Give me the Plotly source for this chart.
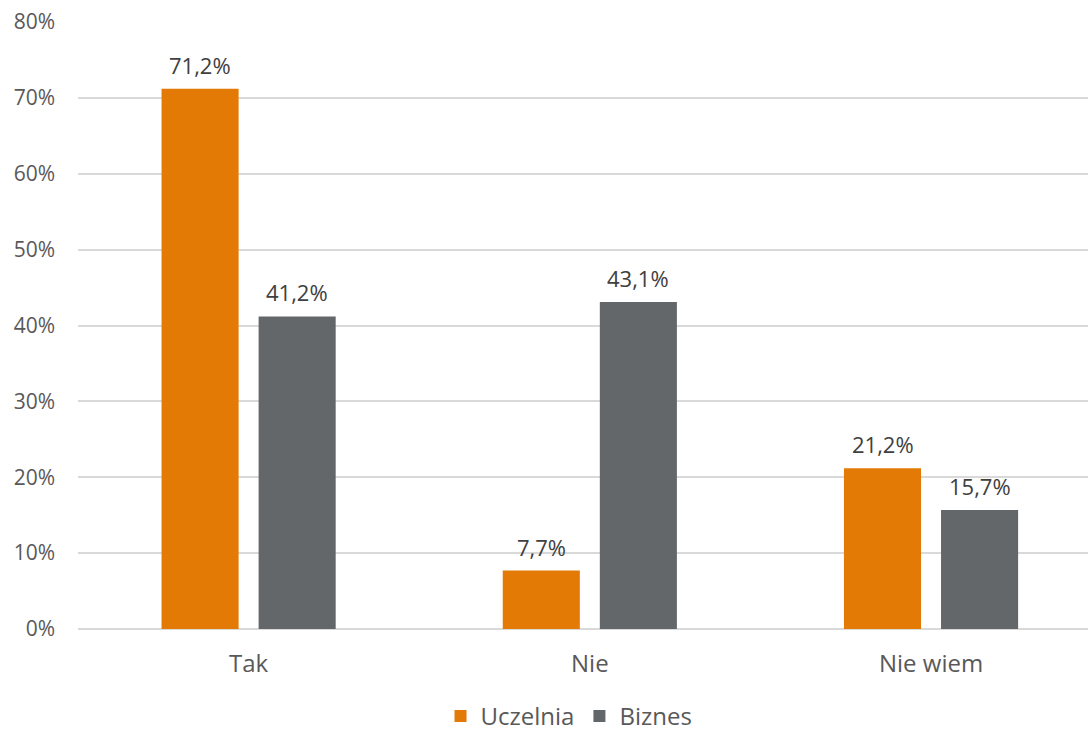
import plotly.graph_objects as go

categories = ["Tak", "Nie", "Nie wiem"]
uczelnia = [71.2, 7.7, 21.2]
biznes = [41.2, 43.1, 15.7]
y_ticks = [0, 10, 20, 30, 40, 50, 60, 70, 80]
y_tick_labels = [f"{v}%" for v in y_ticks]


def fmt(v):
    return f"{v:.1f}%".replace(".", ",")


FONT = "Open Sans"
ORANGE = "#E47A06"
GREY = "#63676A"

fig = go.Figure()
fig.add_trace(go.Bar(
    name="Uczelnia", x=categories, y=uczelnia,
    marker=dict(color=ORANGE, line=dict(width=0)),
))
fig.add_trace(go.Bar(
    name="Biznes", x=categories, y=biznes,
    marker=dict(color=GREY, line=dict(width=0)),
))

# value labels above each bar, offset to the bar's slot within the group
for series, shift in ((uczelnia, -48.5), (biznes, 48.5)):
    for cat, v in zip(categories, series):
        fig.add_annotation(
            x=cat, y=v, text=fmt(v), showarrow=False,
            xanchor="center", yanchor="middle", xshift=shift, yshift=24,
            font=dict(family=FONT, size=22, color="#404040"),
        )

fig.update_layout(
    width=1088, height=734,
    margin=dict(l=78, r=0, t=22, b=105, autoexpand=False),
    paper_bgcolor="white", plot_bgcolor="white",
    barmode="group", bargap=0.431, bargroupgap=0.206,
    font=dict(family=FONT, size=20, color="#595959"),
    showlegend=True,
    legend=dict(
        orientation="h",
        xref="container", x=0.523, xanchor="center",
        y=-0.144, yanchor="middle",
        font=dict(family=FONT, size=24, color="#595959"),
        traceorder="normal", itemwidth=30,
    ),
)
fig.update_yaxes(
    range=[0, 80], tickvals=y_ticks, ticktext=y_tick_labels,
    showgrid=True, gridcolor="#D9D9D9", gridwidth=1.5,
    zeroline=True, zerolinecolor="#D9D9D9", zerolinewidth=1.5,
    showline=False, ticks="", ticklabelstandoff=22,
    tickfont=dict(family=FONT, size=21, color="#595959"),
)
fig.update_xaxes(
    range=[-0.5, 2.46],
    showline=False, ticks="", ticklabelstandoff=18,
    tickfont=dict(family=FONT, size=24, color="#595959"),
)

fig.write_html("out.html")
